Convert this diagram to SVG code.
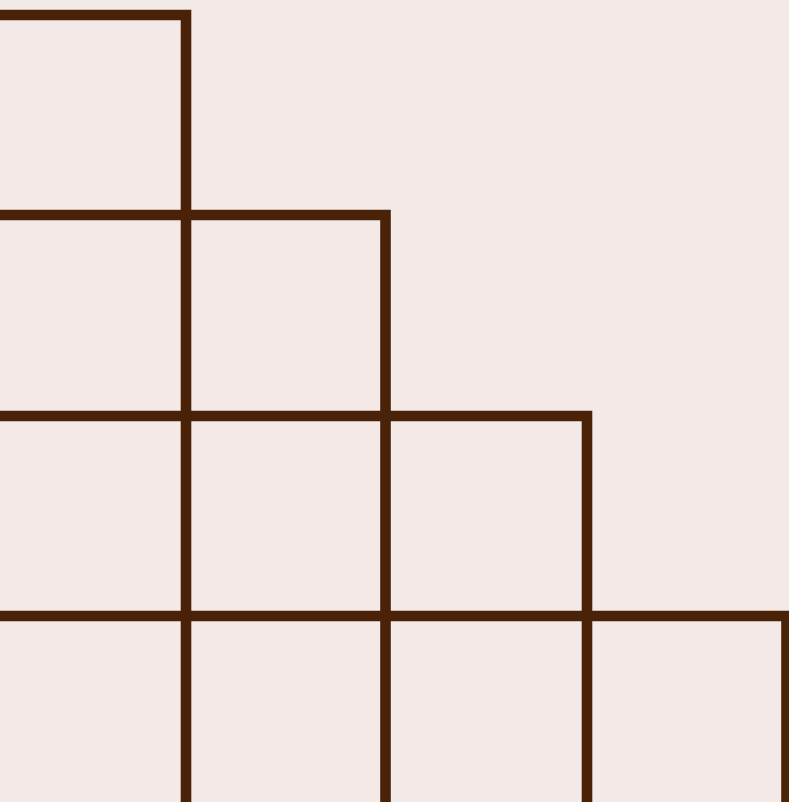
<svg xmlns="http://www.w3.org/2000/svg" width="789" height="802" viewBox="0 0 789 802">
<style>
.step{fill:none;stroke:#4a2208;stroke-width:10.6;stroke-linejoin:miter;stroke-linecap:butt}
</style>
<rect x="0" y="0" width="789" height="802" fill="#f3eae7"/>
<g id="steps">
<path class="step" d="M-10,15 H186 V812"/>
<path class="step" d="M-10,215 H385.5 V812"/>
<path class="step" d="M-10,416 H587 V812"/>
<path class="step" d="M-10,616 H786.5 V812"/>
</g>
</svg>
